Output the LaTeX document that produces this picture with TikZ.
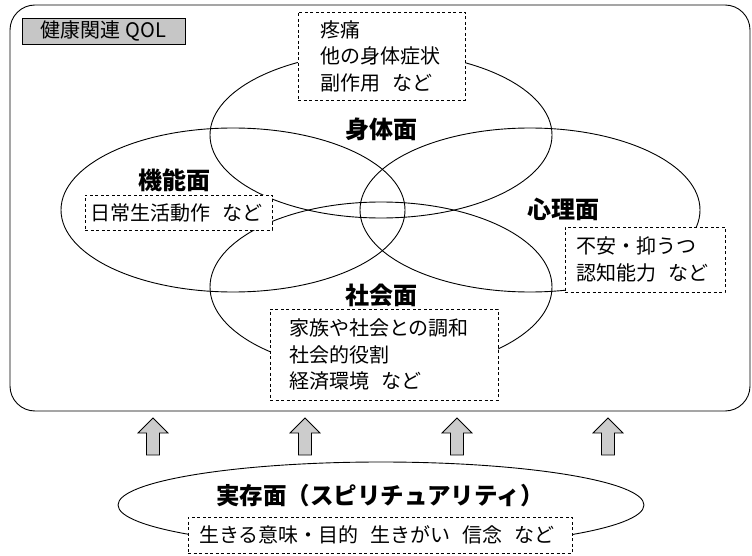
\documentclass[tikz,border=0pt]{standalone}
\usepackage{fontspec}
\newfontfamily\jp{Noto Sans CJK JP}
\usetikzlibrary{shapes.geometric}
\newcommand{\jsp}{\hspace{0.6em}}
\begin{document}
\begin{tikzpicture}[x=1pt,y=-1pt,
  font=\jp\fontsize{20}{26.5}\selectfont,
  ell/.style={draw, ellipse, line width=0.9pt, inner sep=0pt},
  dbox/.style={draw, dashed, dash pattern=on 3pt off 2.5pt, line width=0.9pt, fill=white, align=left},
  lbl/.style={font=\jp\bfseries\fontsize{24}{28}\selectfont, inner sep=0pt},
  uparrow/.style={draw, line width=0.8pt, fill=gray!40}]
\useasboundingbox (0,0) rectangle (752,556);
% outer frame
\draw[line width=0.9pt, rounded corners=25pt] (10,5) rectangle (750,411);
\node[draw, line width=0.8pt, fill=gray!45, minimum width=163pt, minimum height=26pt, inner sep=0pt,
      font=\jp\fontsize{20}{22}\selectfont] (qol) at (103.5,31) {健康関連 QOL};
% ellipses
\node[ell, minimum width=342pt, minimum height=166pt] (body) at (381,135) {};
\node[ell, minimum width=344pt, minimum height=164pt] (func) at (233,210) {};
\node[ell, minimum width=340pt, minimum height=164pt] (psy) at (530,210) {};
\node[ell, minimum width=342pt, minimum height=170pt] (soc) at (381,287) {};
% labels
\node[lbl] (lbody) at (381,129) {身体面};
\node[lbl] (lfunc) at (174,180) {機能面};
\node[lbl] (lpsy) at (563,209) {心理面};
\node[lbl] (lsoc) at (381,295) {社会面};
% dashed boxes
\node[dbox, inner xsep=22pt, inner ysep=8pt, text width=123pt, minimum height=88pt] (b1) at (381.5,56) {疼痛\\他の身体症状\\副作用\jsp など};
\node[dbox, inner xsep=5pt, inner ysep=4pt, text width=177pt, minimum height=35pt] (b2) at (178.5,212.5) {日常生活動作\jsp など};
\node[dbox, inner xsep=11pt, inner ysep=6pt, text width=138pt, minimum height=65pt] (b3) at (645,259.5) {不安・抑うつ\\認知能力\jsp など};
\node[dbox, inner xsep=19pt, inner ysep=8pt, text width=190pt, minimum height=91pt] (b4) at (384,354.5) {家族や社会との調和\\社会的役割\\経済環境\jsp など};
% arrows
\foreach \cx [count=\i] in {153,305,457,608}{
  \draw[uparrow] (\cx,418) -- (\cx+15,433) -- (\cx+6.5,433) -- (\cx+6.5,455) -- (\cx-6.5,455) -- (\cx-6.5,433) -- (\cx-15,433) -- cycle;
}
% existential
\node[ell, minimum width=526pt, minimum height=86pt] (exist) at (381,505) {};
\node[lbl, font=\jp\bfseries\fontsize{23.5}{26}\selectfont] (lexist) at (380,496) {実存面（スピリチュアリティ）};
\node[dbox, inner xsep=11pt, inner ysep=4pt, text width=362pt, minimum height=36pt] (b5) at (380,535) {生きる意味・目的\jsp 生きがい\jsp 信念\jsp など};
\end{tikzpicture}
\end{document}
